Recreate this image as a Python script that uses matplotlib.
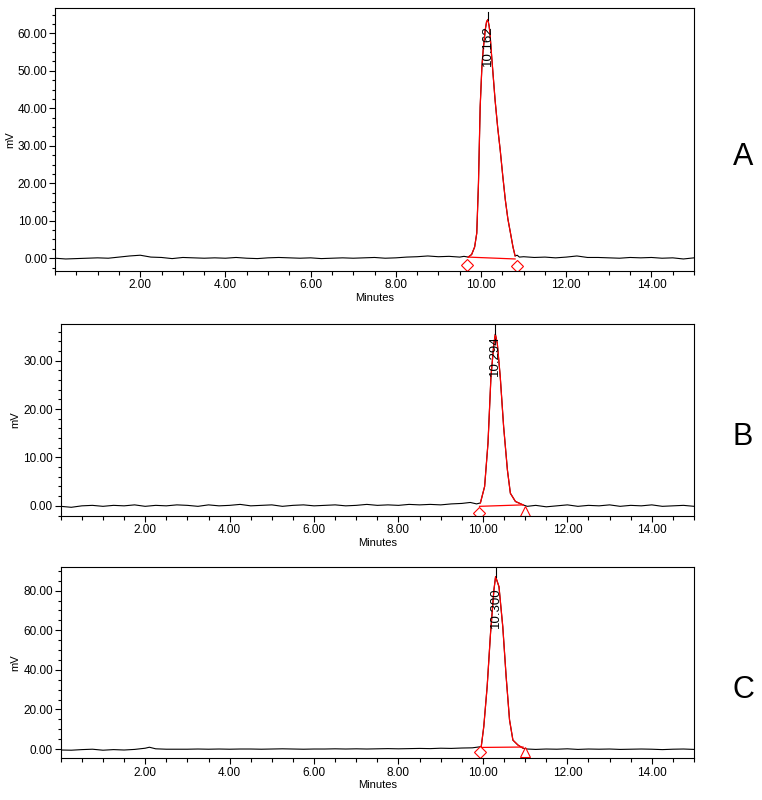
import matplotlib
matplotlib.use("Agg")
from matplotlib import pyplot as plt
from matplotlib.ticker import FixedLocator, MultipleLocator, FormatStrFormatter

plt.rcParams['font.family'] = ['Liberation Sans', 'DejaVu Sans']

# ---- panel A : time (min) / signal (mV)
t_a = [0.00, 0.25, 0.50, 0.75, 1.00, 1.25, 1.50, 1.75, 2.00, 2.25, 2.50, 2.75,
       3.00, 3.25, 3.50, 3.75, 4.00, 4.25, 4.50, 4.75, 5.00, 5.25, 5.50, 5.75,
       6.00, 6.25, 6.50, 6.75, 7.00, 7.25, 7.50, 7.75, 8.00, 8.25, 8.50, 8.75,
       9.00, 9.25, 9.50, 9.60, 9.70, 9.78, 9.85, 9.90, 9.94, 9.98, 10.02, 10.05,
       10.10, 10.13, 10.16, 10.19, 10.21, 10.25, 10.29, 10.33, 10.39, 10.45,
       10.51, 10.57, 10.63, 10.69, 10.75, 10.80, 10.85, 10.90, 11.00, 11.25,
       11.50, 11.75, 12.00, 12.25, 12.50, 12.75, 13.00, 13.25, 13.50, 13.75,
       14.00, 14.25, 14.50, 14.75, 15.00]
mv_a = [0.0, -0.2, -0.1, 0.0, 0.1, 0.0, 0.3, 0.6, 0.8, 0.3, 0.2, -0.1,
        0.2, 0.1, 0.0, 0.1, 0.0, 0.2, 0.0, -0.1, 0.1, 0.2, 0.1, 0.0,
        0.1, -0.1, 0.0, 0.1, 0.0, 0.1, 0.2, 0.0, 0.1, 0.3, 0.4, 0.6,
        0.4, 0.5, 0.3, 0.5, 0.3, 1.0, 3.0, 6.7, 20.0, 40.4, 51.0, 55.5,
        61.0, 63.1, 63.7, 62.0, 60.0, 53.8, 48.0, 42.2, 35.0, 28.9,
        22.0, 15.6, 10.5, 6.8, 3.0, 0.6, 0.8, 0.3, 0.4, 0.2,
        0.3, 0.1, 0.3, 0.6, 0.2, 0.2, 0.1, 0.0, 0.2, 0.1,
        0.2, 0.0, 0.1, -0.2, 0.1]

# ---- panel B
t_b = [0.00, 0.25, 0.50, 0.75, 1.00, 1.25, 1.50, 1.75, 2.00, 2.25, 2.50, 2.75,
       3.00, 3.25, 3.50, 3.75, 4.00, 4.25, 4.50, 4.75, 5.00, 5.25, 5.50, 5.75,
       6.00, 6.25, 6.50, 6.75, 7.00, 7.25, 7.50, 7.75, 8.00, 8.25, 8.50, 8.75,
       9.00, 9.25, 9.50, 9.70, 9.85, 9.94, 10.04, 10.12, 10.19, 10.26, 10.294,
       10.34, 10.41, 10.49, 10.58, 10.65, 10.77, 10.95, 11.05, 11.25, 11.50,
       11.75, 12.00, 12.25, 12.50, 12.75, 13.00, 13.25, 13.50, 13.75, 14.00,
       14.25, 14.50, 14.75, 15.00]
mv_b = [-0.1, -0.3, 0.0, 0.1, -0.1, 0.1, 0.0, 0.2, -0.1, 0.1, 0.0, 0.2,
        0.1, -0.1, 0.2, 0.0, 0.1, 0.3, 0.0, 0.1, 0.2, -0.1, 0.1, 0.2,
        0.0, 0.1, 0.2, 0.0, 0.1, 0.3, 0.1, 0.2, 0.1, 0.3, 0.2, 0.3,
        0.2, 0.4, 0.5, 0.7, 0.4, 0.6, 4.0, 13.0, 26.7, 33.6, 35.5,
        33.6, 26.7, 16.4, 7.4, 2.6, 0.9, 0.2, -0.1, 0.1, -0.2,
        0.0, 0.2, -0.1, 0.1, 0.0, 0.2, -0.1, 0.1, 0.0, 0.2,
        -0.1, 0.0, 0.1, -0.1]

# ---- panel C
t_c = [0.00, 0.25, 0.50, 0.75, 1.00, 1.25, 1.50, 1.75, 2.00, 2.10, 2.25, 2.50,
       2.75, 3.00, 3.25, 3.50, 3.75, 4.00, 4.25, 4.50, 4.75, 5.00, 5.25, 5.50,
       5.75, 6.00, 6.25, 6.50, 6.75, 7.00, 7.25, 7.50, 7.75, 8.00, 8.25, 8.50,
       8.75, 9.00, 9.25, 9.50, 9.75, 9.96, 10.02, 10.10, 10.18, 10.26, 10.30,
       10.38, 10.47, 10.55, 10.63, 10.71, 10.83, 10.95, 11.05, 11.25, 11.50,
       11.75, 12.00, 12.25, 12.50, 12.75, 13.00, 13.25, 13.50, 13.75, 14.00,
       14.25, 14.50, 14.75, 15.00]
mv_c = [-0.5, -0.6, -0.3, -0.1, -0.6, -0.3, -0.5, -0.2, 0.4, 0.9, 0.1, -0.1,
        -0.1, -0.1, 0.0, -0.1, 0.0, -0.1, 0.0, 0.0, -0.1, 0.0, 0.1, 0.0,
        -0.1, 0.0, 0.0, 0.1, 0.0, 0.1, 0.0, 0.1, 0.2, 0.1, 0.2, 0.3,
        0.2, 0.4, 0.3, 0.5, 0.6, 1.2, 11.3, 31.5, 58.5, 80.3, 87.1,
        82.0, 61.8, 36.5, 14.7, 4.5, 2.0, 0.4, 0.0, -0.2, 0.0,
        -0.1, 0.1, -0.2, 0.0, -0.1, 0.0, -0.2, -0.1, 0.0, -0.1,
        -0.3, -0.1, 0.0, -0.2]

rt_labels = ["10.162", "10.294", "10.300"]
panel_names = ["A", "B", "C"]

# integration: start/end time, baseline mV at start/end, end marker
integ = [(9.70, 10.80, 0.3, -0.2, 'D'),
         (9.92, 10.95, -0.1, 0.2, '^'),
         (9.96, 10.95, 0.8, 1.0, '^')]

fig = plt.figure(figsize=(7.62, 8.0), dpi=100)
ax_rects = [[0.0722, 0.6613, 0.8386, 0.3293],
            [0.0797, 0.3550, 0.8311, 0.2400],
            [0.0797, 0.0521, 0.8311, 0.2388]]
ylims = [(-3.4, 66.9), (-2.1, 37.6), (-4.7, 91.8)]
ymaj = [10, 10, 20]
ymin = [2.5, 2, 5]
text_drop = [1.5, 0.3, 5.2]
marker_drop = [2.0, 1.3, 2.4]
rt_tick_top = [65.6, 40, 95]

data = [(t_a, mv_a), (t_b, mv_b), (t_c, mv_c)]

for i in range(3):
    ax = fig.add_axes(ax_rects[i])
    t, mv = data[i]
    ax.plot(t, mv, color='black', lw=0.8)

    t0, t1, b0, b1, mk = integ[i]
    tp = [x for x in t if t0 <= x <= t1]
    vp = [v for x, v in zip(t, mv) if t0 <= x <= t1]
    ax.plot(tp, vp, color='red', lw=0.9)
    ax.plot([t0, t1], [b0, b1], color='red', lw=0.9)
    ax.plot([t0 - 0.02], [b0 - marker_drop[i]], marker='D', ms=6,
            mfc='white', mec='red', mew=0.8, ls='none')
    ax.plot([t1 + 0.05], [b1 - marker_drop[i]], marker=mk, ms=7 if mk == '^' else 6,
            mfc='white', mec='red', mew=0.8, ls='none')

    # retention time marker and label
    k = mv.index(max(mv))
    rt, apex = t[k], mv[k]
    ax.plot([rt, rt], [apex, rt_tick_top[i]], color='black', lw=0.8)
    ax.text(rt, apex - text_drop[i], rt_labels[i], rotation=90, ha='center', va='top',
            fontsize=9.5)

    ax.set_xlim(0, 15)
    ax.set_ylim(*ylims[i])
    ax.xaxis.set_major_locator(FixedLocator([2, 4, 6, 8, 10, 12, 14]))
    ax.xaxis.set_minor_locator(MultipleLocator(0.5))
    ax.xaxis.set_major_formatter(FormatStrFormatter('%.2f'))
    ax.yaxis.set_major_locator(MultipleLocator(ymaj[i]))
    ax.yaxis.set_minor_locator(MultipleLocator(ymin[i]))
    ax.yaxis.set_major_formatter(FormatStrFormatter('%.2f'))
    ax.tick_params(which='both', direction='out', top=False, right=False,
                   labelsize=8.5, width=0.8, pad=1.5)
    ax.tick_params(axis='x', which='major', length=4.5)
    ax.tick_params(axis='x', which='minor', length=3)
    ax.tick_params(axis='y', which='major', length=4)
    ax.tick_params(axis='y', which='minor', length=2)
    for s in ax.spines.values():
        s.set_linewidth(0.8)
    ax.set_xlabel('Minutes', fontsize=8, labelpad=1)
    ax.set_ylabel('mV', fontsize=8, labelpad=2)

fig.text(0.975, 0.804, "A", fontsize=22, ha='center', va='center')
fig.text(0.975, 0.454, "B", fontsize=22, ha='center', va='center')
fig.text(0.975, 0.1375, "C", fontsize=22, ha='center', va='center')

plt.savefig('out.png', dpi=100)
